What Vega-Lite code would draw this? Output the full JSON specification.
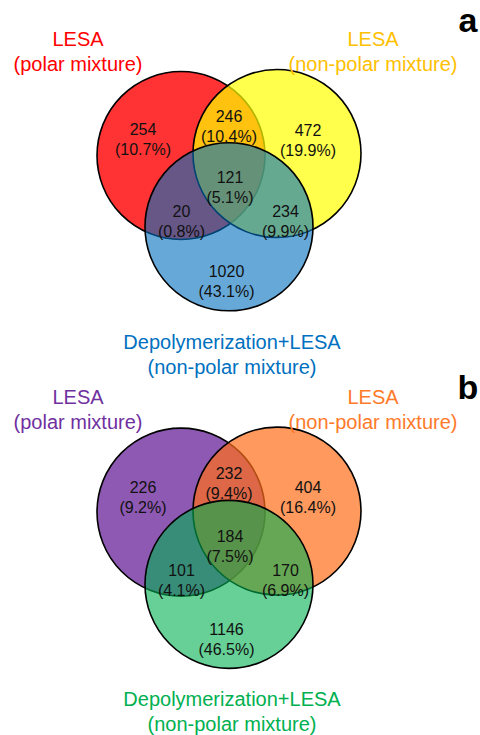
{
  "$schema": "https://vega.github.io/schema/vega-lite/v6.json",
  "width": 480,
  "height": 735,
  "autosize": {"type": "fit", "contains": "padding"},
  "padding": 0,
  "background": "white",
  "config": {"view": {"stroke": null}, "font": "Liberation Sans"},
  "datasets": {
    "circles": [
      {"panel": "a", "set": "A polar", "layer": "top", "x": 181, "y": 157},
      {"panel": "a", "set": "A nonpolar", "layer": "middle", "x": 277, "y": 155},
      {"panel": "a", "set": "A depoly", "layer": "bottom", "x": 229, "y": 229},
      {"panel": "b", "set": "B polar", "layer": "top", "x": 181, "y": 517},
      {"panel": "b", "set": "B nonpolar", "layer": "middle", "x": 277, "y": 516},
      {"panel": "b", "set": "B depoly", "layer": "bottom", "x": 229, "y": 590}
    ],
    "counts": [
      {"panel": "a", "region": "polar only", "label": "254\n(10.7%)", "x": 143, "y": 131.5},
      {"panel": "a", "region": "polar+nonpolar", "label": "246\n(10.4%)", "x": 229, "y": 118},
      {"panel": "a", "region": "nonpolar only", "label": "472\n(19.9%)", "x": 308, "y": 132},
      {"panel": "a", "region": "all", "label": "121\n(5.1%)", "x": 230, "y": 180},
      {"panel": "a", "region": "polar+depoly", "label": "20\n(0.8%)", "x": 181.5, "y": 214},
      {"panel": "a", "region": "nonpolar+depoly", "label": "234\n(9.9%)", "x": 285.5, "y": 214},
      {"panel": "a", "region": "depoly only", "label": "1020\n(43.1%)", "x": 226.5, "y": 275},
      {"panel": "b", "region": "polar only", "label": "226\n(9.2%)", "x": 143, "y": 493},
      {"panel": "b", "region": "polar+nonpolar", "label": "232\n(9.4%)", "x": 229, "y": 479},
      {"panel": "b", "region": "nonpolar only", "label": "404\n(16.4%)", "x": 308, "y": 493},
      {"panel": "b", "region": "all", "label": "184\n(7.5%)", "x": 230, "y": 542},
      {"panel": "b", "region": "polar+depoly", "label": "101\n(4.1%)", "x": 181.5, "y": 576},
      {"panel": "b", "region": "nonpolar+depoly", "label": "170\n(6.9%)", "x": 285.5, "y": 576},
      {"panel": "b", "region": "depoly only", "label": "1146\n(46.5%)", "x": 226.5, "y": 636}
    ],
    "titles": [
      {"set": "A polar", "label": "LESA\n(polar mixture)", "x": 78, "y": 40},
      {"set": "A nonpolar", "label": "LESA\n(non-polar mixture)", "x": 373, "y": 40},
      {"set": "A depoly", "label": "Depolymerization+LESA\n(non-polar mixture)", "x": 232, "y": 346},
      {"set": "B polar", "label": "LESA\n(polar mixture)", "x": 78, "y": 402},
      {"set": "B nonpolar", "label": "LESA\n(non-polar mixture)", "x": 373, "y": 402},
      {"set": "B depoly", "label": "Depolymerization+LESA\n(non-polar mixture)", "x": 232, "y": 707}
    ],
    "panels": [
      {"label": "a", "x": 468, "y": 32},
      {"label": "b", "x": 468, "y": 403}
    ]
  },
  "encoding": {
    "x": {"field": "x", "type": "quantitative", "scale": {"domain": [0, 480]}, "axis": null},
    "y": {"field": "y", "type": "quantitative", "scale": {"domain": [0, 735], "reverse": true}, "axis": null}
  },
  "layer": [
    {
      "data": {"name": "circles"},
      "transform": [{"filter": "datum.layer === 'top'"}],
      "mark": {"type": "point", "shape": "circle", "filled": true, "opacity": 1, "fillOpacity": 0.8, "stroke": "black", "strokeWidth": 1.6, "strokeOpacity": 1},
      "encoding": {
        "size": {"value": 28224},
        "color": {
          "field": "set", "type": "nominal",
          "scale": {"domain": ["A polar", "B polar"], "range": ["#FF0000", "#7030A0"]},
          "legend": null
        }
      }
    },
    {
      "data": {"name": "circles"},
      "transform": [{"filter": "datum.layer === 'middle'"}],
      "mark": {"type": "point", "shape": "circle", "filled": true, "opacity": 1, "fillOpacity": 0.7, "stroke": "black", "strokeWidth": 1.6, "strokeOpacity": 1},
      "encoding": {
        "size": {"value": 28224},
        "color": {
          "field": "set", "type": "nominal",
          "scale": {"domain": ["A nonpolar", "B nonpolar"], "range": ["#FFFF00", "#FF6E1A"]},
          "legend": null
        }
      }
    },
    {
      "data": {"name": "circles"},
      "transform": [{"filter": "datum.layer === 'bottom'"}],
      "mark": {"type": "point", "shape": "circle", "filled": true, "opacity": 1, "fillOpacity": 0.6, "stroke": "black", "strokeWidth": 1.6, "strokeOpacity": 1},
      "encoding": {
        "size": {"value": 28224},
        "color": {
          "field": "set", "type": "nominal",
          "scale": {"domain": ["A depoly", "B depoly"], "range": ["#0070C0", "#00B050"]},
          "legend": null
        }
      }
    },
    {
      "data": {"name": "counts"},
      "mark": {"type": "text", "fontSize": 16, "lineBreak": "\n", "lineHeight": 20, "align": "center", "baseline": "middle", "color": "#111111"},
      "encoding": {"text": {"field": "label", "type": "nominal"}}
    },
    {
      "data": {"name": "titles"},
      "mark": {"type": "text", "fontSize": 20, "lineBreak": "\n", "lineHeight": 25, "align": "center", "baseline": "middle"},
      "encoding": {
        "text": {"field": "label", "type": "nominal"},
        "color": {
          "field": "set", "type": "nominal",
          "scale": {
            "domain": ["A polar", "A nonpolar", "A depoly", "B polar", "B nonpolar", "B depoly"],
            "range": ["#FF0000", "#FFC000", "#0070C0", "#7030A0", "#FF7A2A", "#00B050"]
          },
          "legend": null
        }
      }
    },
    {
      "data": {"name": "panels"},
      "mark": {"type": "text", "fontSize": 34, "fontWeight": "bold", "align": "center", "baseline": "alphabetic", "color": "black"},
      "encoding": {"text": {"field": "label", "type": "nominal"}}
    }
  ],
  "resolve": {"scale": {"color": "independent"}}
}
